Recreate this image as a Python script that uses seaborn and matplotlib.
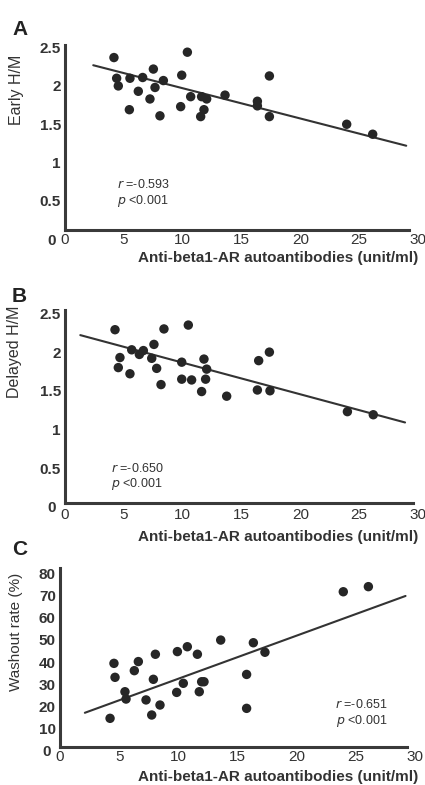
import numpy as np
import pandas as pd
import matplotlib
matplotlib.use("Agg")
import matplotlib.pyplot as plt
import seaborn as sns

# ---------------- data ----------------
x_label = "Anti-beta1-AR autoantibodies (unit/ml)"
x_ticks = [0, 5, 10, 15, 20, 25, 30]

# Panel A: Early H/M
a_x = [4.16, 4.39, 4.53, 5.52, 5.47, 6.23, 6.60, 7.22, 7.51, 7.65, 8.07, 8.36, 9.92, 9.83,
       10.40, 10.68, 11.61, 11.53, 11.81, 12.04, 13.60, 16.35, 16.35, 17.37, 17.37, 23.94, 26.15]
a_y = [2.37, 2.10, 2.00, 2.10, 1.69, 1.93, 2.11, 1.83, 2.22, 1.98, 1.61, 2.07, 2.14, 1.73,
       2.44, 1.86, 1.86, 1.60, 1.69, 1.83, 1.88, 1.80, 1.74, 2.13, 1.60, 1.50, 1.37]
a_ticks = [0, 0.5, 1, 1.5, 2, 2.5]
a_tick_labels = ["0 ", "0.5", "1", "1.5", "2", "2.5"]
a_stats = ["r", "=-0.593", "p", "<0.001"]
a_fit_x = [2.4, 29.0]          # regression line as drawn in the reference
a_fit_y = [2.27, 1.22]

# Panel B: Delayed H/M
b_x = [4.25, 4.67, 4.53, 5.52, 5.67, 6.32, 6.66, 7.37, 7.56, 7.79, 8.16, 8.41, 9.92, 9.92,
       10.48, 10.76, 11.61, 11.81, 12.04, 11.95, 13.74, 16.35, 16.46, 17.37, 17.42, 24.0, 26.2]
b_y = [2.29, 1.93, 1.80, 1.72, 2.03, 1.97, 2.02, 1.92, 2.10, 1.79, 1.58, 2.30, 1.87, 1.65,
       2.35, 1.64, 1.49, 1.91, 1.78, 1.65, 1.43, 1.51, 1.89, 2.00, 1.50, 1.23, 1.19]
b_ticks = [0, 0.5, 1, 1.5, 2, 2.5]
b_tick_labels = ["0 ", "0.5", "1", "1.5", "2", "2.5"]
b_stats = ["r", "=-0.650", "p", "<0.001"]
b_fit_x = [1.3, 28.9]
b_fit_y = [2.22, 1.09]

# Panel C: Washout rate (%)
c_x = [4.23, 4.56, 4.65, 5.58, 5.49, 6.28, 6.62, 7.27, 7.75, 7.89, 8.06, 8.45, 9.92, 9.86,
       10.42, 10.76, 11.61, 11.77, 11.97, 12.17, 13.58, 15.77, 15.77, 16.34, 17.32, 23.94, 26.06]
c_y = [14.6, 39.4, 33.1, 23.3, 26.6, 36.1, 40.2, 22.9, 16.1, 32.2, 43.5, 20.6, 44.7, 26.3,
       30.4, 46.9, 43.5, 26.6, 31.1, 31.1, 49.9, 34.4, 19.1, 48.7, 44.4, 71.7, 74.0]
c_ticks = [0, 10, 20, 30, 40, 50, 60, 70, 80]
c_tick_labels = ["0 ", "10", "20", "30", "40", "50", "60", "70", "80"]
c_stats = ["r", "=-0.651", "p", "<0.001"]
c_fit_x = [2.1, 29.2]
c_fit_y = [17.1, 69.8]

# ---------------- style ----------------
sns.set_style("white")
plt.rcParams["font.family"] = ["Liberation Sans", "DejaVu Sans"]
TXT = "#333333"
DOT = "#262626"
LINE = "#333333"
SPINE = "#3a3a3a"

fig = plt.figure(figsize=(4.25, 7.85), dpi=100)


def panel(rect, xs, ys, fit_x, fit_y, ylim, yticks, ylabels, ylab, ylab_pos, ylab_size,
          spine_y, xspine_end, stats, stats_pos, stats_ha, letter, letter_y, xlabel_y,
          xpad):
    ax = fig.add_axes(rect)
    df = pd.DataFrame({"x": xs, "y": ys})
    fit = pd.DataFrame({"x": fit_x, "y": fit_y})
    sns.lineplot(data=fit, x="x", y="y", ax=ax, color=LINE, lw=1.5, zorder=2)
    sns.scatterplot(data=df, x="x", y="y", ax=ax, s=46, color=DOT, edgecolor="none",
                    linewidth=0, zorder=3)
    ax.set_xlim(0, 30)
    ax.set_ylim(*ylim)
    ax.set_xticks(x_ticks)
    ax.set_xticklabels([str(t) for t in x_ticks])
    ax.set_yticks(yticks)
    ax.set_yticklabels(ylabels)
    ax.tick_params(axis="both", length=0, labelsize=11, colors=TXT)
    ax.tick_params(axis="x", pad=xpad)
    ax.tick_params(axis="y", pad=3)
    for lab in ax.get_xticklabels() + ax.get_yticklabels():
        lab.set_fontweight("bold")
    for s in ["top", "right"]:
        ax.spines[s].set_visible(False)
    for s in ["left", "bottom"]:
        ax.spines[s].set_color(SPINE)
        ax.spines[s].set_linewidth(2.2)
    ax.spines["bottom"].set_position(("data", spine_y))
    ax.spines["bottom"].set_bounds(0, xspine_end)
    ax.spines["left"].set_bounds(spine_y, ylim[1])
    ax.set_xlabel("")
    ax.set_ylabel(ylab, fontsize=ylab_size, color=TXT)
    ax.yaxis.set_label_coords(*ylab_pos)
    # statistics text
    sx, sy1, sy2 = stats_pos
    ax.text(sx, sy1, rf"$r$ {stats[1]}", fontsize=9, color=TXT, ha=stats_ha, va="center")
    ax.text(sx, sy2, rf"$p$ {stats[3]}", fontsize=9, color=TXT, ha=stats_ha, va="center")
    fig.text(12 / 425, 1 - letter_y / 785, letter, fontsize=15, fontweight="bold",
             color="#222222", ha="left", va="baseline")
    fig.text(418 / 425, 1 - xlabel_y / 785, x_label, fontsize=11, fontweight="bold",
             color=TXT, ha="right", va="center")
    return ax


panel([65 / 425, 0.6952, 353 / 425, 0.2471], a_x, a_y, a_fit_x, a_fit_y, (0, 2.53),
      a_ticks, a_tick_labels, "Early H/M", (-0.116, 0.77), 11.5,
      0.12, 29.2, a_stats, (4.4, 0.72, 0.50), "left", "A", 35, 258, 2.0)

panel([65 / 425, 0.3545, 353 / 425, 0.2501], b_x, b_y, b_fit_x, b_fit_y, (0, 2.54),
      b_ticks, b_tick_labels, "Delayed H/M", (-0.122, 0.79), 11.5,
      0.044, 29.6, b_stats, (3.9, 0.50, 0.29), "left", "B", 302, 537, 3.5)

panel([60 / 425, 0.0437, 355 / 425, 0.2327], c_x, c_y, c_fit_x, c_fit_y, (0, 82.4),
      c_ticks, c_tick_labels, "Washout rate (%)", (-0.104, 0.65), 11,
      1.8, 29.3, c_stats, (27.7, 21.0, 13.4), "right", "C", 555, 777, 2.5)

fig.savefig("out.png", dpi=100)
